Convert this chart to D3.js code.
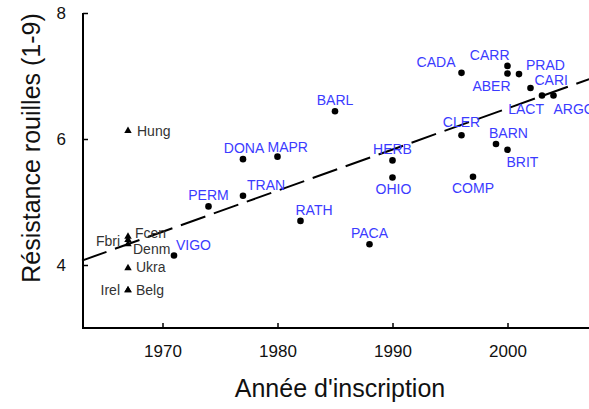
<!DOCTYPE html>
<html>
<head>
<meta charset="utf-8">
<script src="https://cdn.jsdelivr.net/npm/d3@7"></script>
<style>
body { margin: 0; background: #fff; }
text { font-family: "Liberation Sans", Arial, sans-serif; }
</style>
</head>
<body>
<div id="chart"></div>
<script>
// french varieties (dots)
const frNames = ['VIGO','PERM','TRAN','DONA','MAPR','RATH','BARL','PACA','HERB','OHIO','CADA',
  'CLER','COMP','BARN','CARR','ABER','BRIT','PRAD','CARI','LACT','ARGO'];
const frYears = [1971,1974,1977,1977,1980,1982,1985,1988,1990,1990,1996,
  1996,1997,1999,2000,2000,2000,2001,2002,2003,2004];
const frScores = [4.15,4.93,5.10,5.68,5.72,4.70,6.44,4.33,5.66,5.39,7.05,
  6.06,5.40,5.92,7.16,7.04,5.83,7.03,6.81,6.69,6.69];

// foreign references (triangles)
const etNames = ['Hung','Fcen','Fbri','Denm','Ukra','Belg','Irel'];
const etYears = [1967,1967,1967,1967,1967,1967,1967];
const etScores = [6.13,4.45,4.40,4.33,3.95,3.60,3.60];

// regression line end points
const fitYears = [1963, 2007.1];
const fitScores = [4.07, 6.95];

const xTicks = [1970, 1980, 1990, 2000];
const yTicks = [4, 6, 8];

// label placement: anchor, dx, dy
const labelPos = {
  VIGO:['start',2,-6], PERM:['middle',0,-6], TRAN:['start',4,-6], DONA:['middle',1,-6],
  MAPR:['start',-10,-5], RATH:['start',-5,-6], BARL:['middle',0,-6], PACA:['middle',0,-6],
  HERB:['middle',0,-6], OHIO:['middle',1,17], CADA:['end',-6,-6], CLER:['middle',0,-8],
  COMP:['middle',0,16], BARN:['start',-7,-6], CARR:['end',2,-6], ABER:['end',3,18],
  BRIT:['start',-1,17], PRAD:['start',7,-4], CARI:['start',4,-3], LACT:['end',2,18],
  ARGO:['start',0,18],
  Hung:['start',9,5], Fcen:['start',7,1], Fbri:['end',-8,6], Denm:['start',5,10],
  Ukra:['start',8,4], Belg:['start',8,5], Irel:['end',-8,5]
};

const width = 589, height = 409;
const plotLeft = 83, plotTop = 13, plotBottom = 328;

const svg = d3.select('#chart').append('svg')
  .attr('width', width).attr('height', height);

const x = d3.scaleLinear().domain([1963, 2007]).range([82, 588]);
const y = d3.scaleLinear().domain([3, 8]).range([plotBottom, plotTop]);

// axes, ticks pointing inward
const xAxis = svg.append('g').attr('transform', `translate(0,${plotBottom})`)
  .call(d3.axisBottom(x).tickValues(xTicks).tickFormat(d3.format('d'))
    .tickSize(-5).tickSizeOuter(0).tickPadding(17));
const yAxis = svg.append('g').attr('transform', `translate(${plotLeft},0)`)
  .call(d3.axisLeft(y).tickValues(yTicks).tickFormat(d3.format('d'))
    .tickSize(-5).tickSizeOuter(0).tickPadding(17));

[xAxis, yAxis].forEach(function (g) {
  g.select('.domain').remove();
  g.selectAll('.tick line').attr('stroke', '#000').attr('stroke-width', 1.5);
  g.selectAll('.tick text').attr('fill', '#111').style('font-size', '17px');
});

svg.append('path')
  .attr('d', `M${plotLeft},${plotTop}V${plotBottom}H${width}`)
  .attr('fill', 'none').attr('stroke', '#000').attr('stroke-width', 2);

svg.append('text')
  .attr('x', 340).attr('y', 397).attr('text-anchor', 'middle')
  .style('font-size', '25px').attr('fill', '#111')
  .text("Année d'inscription");

svg.append('text')
  .attr('transform', 'translate(40,148) rotate(-90)').attr('text-anchor', 'middle')
  .style('font-size', '25px').attr('fill', '#111')
  .text('Résistance rouilles (1-9)');

// regression
const fit = fitYears.map(function (d, i) { return [d, fitScores[i]]; });
svg.append('path')
  .attr('d', d3.line().x(d => x(d[0])).y(d => y(d[1]))(fit))
  .attr('fill', 'none').attr('stroke', '#000').attr('stroke-width', 2)
  .attr('stroke-dasharray', '26,9');

const fr = frNames.map(function (n, i) { return {name: n, year: frYears[i], score: frScores[i]}; });
const et = etNames.map(function (n, i) { return {name: n, year: etYears[i], score: etScores[i]}; });

svg.selectAll('circle.fr').data(fr).enter()
  .append('circle').attr('class', 'fr')
  .attr('cx', d => x(d.year)).attr('cy', d => y(d.score))
  .attr('r', 3.3).attr('fill', '#000');

svg.selectAll('path.et').data(et).enter()
  .append('path').attr('class', 'et')
  .attr('d', d3.symbol().type(d3.symbolTriangle).size(24))
  .attr('transform', d => `translate(${x(d.year)},${y(d.score)})`)
  .attr('fill', '#000');

function addLabels(data, color) {
  svg.selectAll(null).data(data).enter()
    .append('text')
    .attr('x', d => x(d.year) + labelPos[d.name][1])
    .attr('y', d => y(d.score) + labelPos[d.name][2])
    .attr('text-anchor', d => labelPos[d.name][0])
    .style('font-size', '14px')
    .attr('fill', color)
    .text(d => d.name);
}
addLabels(fr, '#3b3bff');
addLabels(et, '#333');
</script>
</body>
</html>
